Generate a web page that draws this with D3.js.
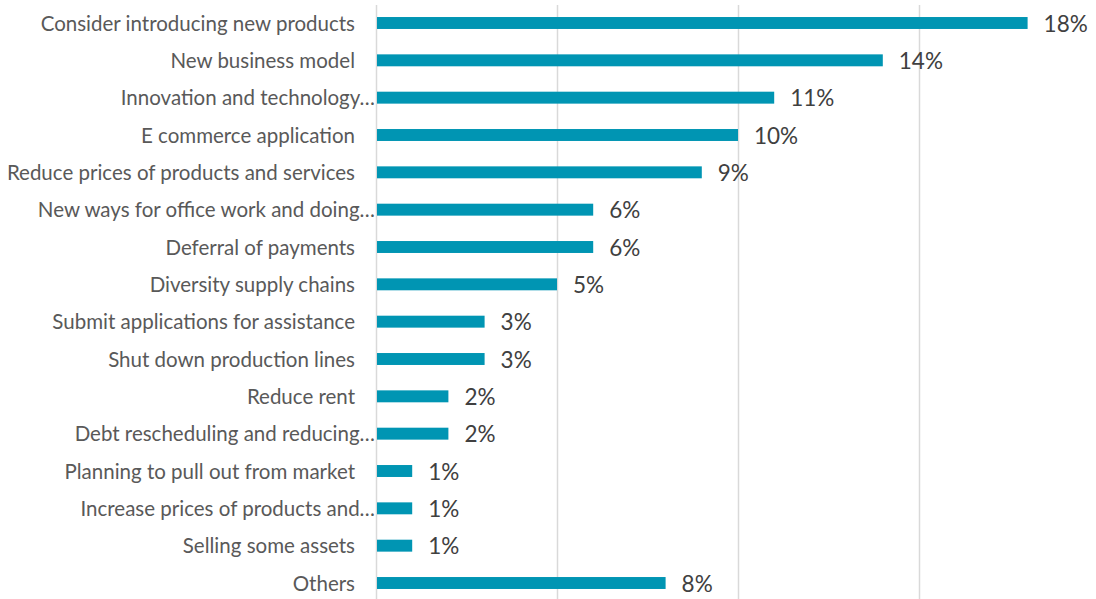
<!DOCTYPE html>
<html>
<head>
<meta charset="utf-8">
<script src="https://cdn.jsdelivr.net/npm/d3@7"></script>
<style>
  html, body { margin: 0; padding: 0; background: #fff; }
  svg { display: block; }
</style>
</head>
<body>
<svg id="chart" width="1096" height="599"></svg>
<script>
// Responses, top to bottom
const categories = [
  "Consider introducing new products",
  "New business model",
  "Innovation and technology…",
  "E commerce application",
  "Reduce prices of products and services",
  "New ways for office work and doing…",
  "Deferral of payments",
  "Diversity supply chains",
  "Submit applications for assistance",
  "Shut down production lines",
  "Reduce rent",
  "Debt rescheduling and reducing…",
  "Planning to pull out from market",
  "Increase prices of products and…",
  "Selling some assets",
  "Others"
];
// Share of respondents, percent
const values = [18, 14, 11, 10, 9, 6, 6, 5, 3, 3, 2, 2, 1, 1, 1, 8];
// Gridline positions, percent
const gridTicks = [0, 5, 10, 15, 20];

const svg = d3.select("#chart");
const W = 1096, H = 599;
const left = 376, right = 1100;

const x = d3.scaleLinear().domain([0, 20]).range([left, right]);
const y = d3.scaleBand()
  .domain(categories)
  .range([4.33, 601.67])
  .paddingInner(0.68)
  .paddingOuter(0.34);

// vertical gridlines
svg.append("g")
  .selectAll("line")
  .data(gridTicks)
  .join("line")
  .attr("x1", d => Math.round(x(d)) + 0.5)
  .attr("x2", d => Math.round(x(d)) + 0.5)
  .attr("y1", 5)
  .attr("y2", H)
  .attr("stroke", "#d9d9d9")
  .attr("stroke-width", 1.5);

// bars
svg.append("g")
  .selectAll("rect")
  .data(values)
  .join("rect")
  .attr("x", x(0) + 1)
  .attr("y", (d, i) => y(categories[i]))
  .attr("width", d => x(d) - x(0) - 1)
  .attr("height", y.bandwidth())
  .attr("fill", "#0095b3");

// value labels
svg.append("g")
  .selectAll("text")
  .data(values)
  .join("text")
  .attr("x", d => x(d) + 16)
  .attr("y", (d, i) => y(categories[i]) + y.bandwidth() / 2)
  .attr("dy", "0.38em")
  .attr("font-family", "Lato, 'Noto Sans', sans-serif")
  .attr("font-size", 22.5)
  .attr("fill", "#404040")
  .text(d => d + "%");

// category labels
svg.append("g")
  .selectAll("text")
  .data(categories)
  .join("text")
  .attr("x", d => d.endsWith("…") ? left - 1 : left - 21)
  .attr("y", d => y(d) + y.bandwidth() / 2)
  .attr("dy", "0.38em")
  .attr("text-anchor", "end")
  .attr("font-family", "Lato, 'Noto Sans', sans-serif")
  .attr("font-size", 20.5)
  .attr("fill", "#595959")
  .text(d => d);
</script>
</body>
</html>
